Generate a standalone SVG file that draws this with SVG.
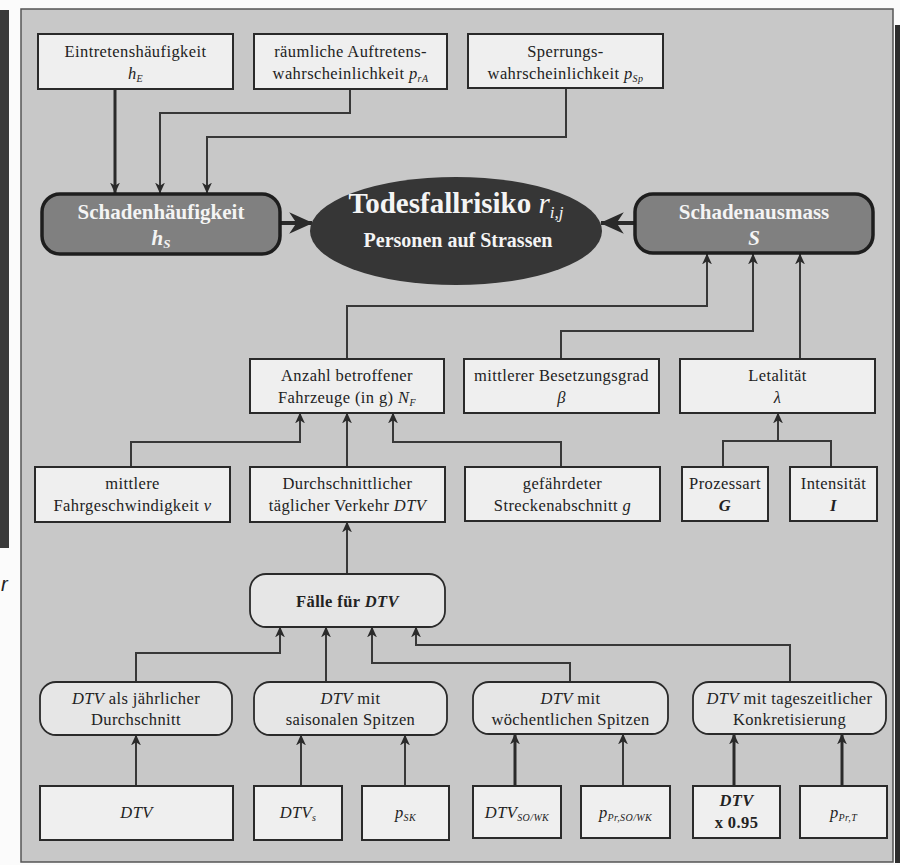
<svg xmlns="http://www.w3.org/2000/svg" width="900" height="865" viewBox="0 0 900 865">
<defs>
<style>
.box{fill:#efefef;stroke:#2a2a2a;stroke-width:2}
.rbox{fill:#e6e6e6;stroke:#2a2a2a;stroke-width:1.8}
.dbox{fill:#808080;stroke:#1e1e1e;stroke-width:3.5}
.t{font-family:"Liberation Serif","Times New Roman",serif;font-size:16.5px;fill:#222;text-anchor:middle;letter-spacing:0.4px}
.tw{font-family:"Liberation Serif","Times New Roman",serif;font-weight:bold;fill:#f4f4f4;text-anchor:middle}
.i{font-style:italic}
.b{font-weight:bold}
.c{fill:none;stroke:#383838;stroke-width:2;marker-end:url(#ah)}
.ct{fill:none;stroke:#2a2a2a;stroke-width:3;marker-end:url(#ah)}
.cn{fill:none;stroke:#383838;stroke-width:2}
.cb{fill:none;stroke:#2a2a2a;stroke-width:4;marker-end:url(#big)}
</style>
<marker id="ah" viewBox="0 0 10 10" refX="9.5" refY="5" markerWidth="11" markerHeight="11" markerUnits="userSpaceOnUse" orient="auto">
<path d="M0,0.5 L10,5 L0,9.5 L3,5 z" fill="#2a2a2a"/>
</marker>
<marker id="big" viewBox="0 0 10 10" refX="9.5" refY="5" markerWidth="24" markerHeight="24" markerUnits="userSpaceOnUse" orient="auto">
<path d="M0,0.5 L10,5 L0,9.5 L3,5 z" fill="#2a2a2a"/>
</marker>
</defs>
<rect x="0" y="0" width="900" height="865" fill="#fbfbfb"/>
<rect x="0" y="10" width="9" height="538" fill="#3a3a3a"/>
<text x="1" y="591" font-family="'Liberation Sans',Arial,sans-serif" font-style="italic" font-size="20" fill="#222">r</text>
<rect x="895" y="25" width="5" height="838" fill="#2e2e2e"/>
<rect x="21" y="9" width="872" height="853" fill="#c8c8c8" stroke="#555" stroke-width="1.5"/>

<g id="connectors">
<path class="ct" d="M115,89 V193"/>
<path class="c" d="M350,89 V113 H160 V193"/>
<path class="c" d="M566,88 V137 H207 V193"/>
<path class="cb" d="M280,223 H312"/>
<path class="cb" d="M635,223 H601"/>
<path class="c" d="M347,359 V306 H707 V254"/>
<path class="c" d="M561,359 V331 H753 V254"/>
<path class="c" d="M800,359 V254"/>
<path class="c" d="M131,467 V442 H300 V413"/>
<path class="c" d="M347,467 V413"/>
<path class="c" d="M561,467 V442 H393 V413"/>
<path class="cn" d="M723,467 V441 H831 V467"/>
<path class="c" d="M778,441 V413"/>
<path class="c" d="M347,574 V522"/>
<path class="c" d="M136,682 V653 H280 V627"/>
<path class="c" d="M326,682 V627"/>
<path class="c" d="M570,682 V663 H372 V627"/>
<path class="c" d="M790,682 V645 H416 V627"/>
<path class="c" d="M136,786 V735"/>
<path class="c" d="M301,786 V735"/>
<path class="c" d="M405,786 V735"/>
<path class="ct" d="M515,786 V734"/>
<path class="c" d="M623,786 V734"/>
<path class="ct" d="M734,786 V734"/>
<path class="ct" d="M842,786 V734"/>
</g>

<g id="eintretenshaeufigkeit">
<rect class="box" x="38" y="34" width="195" height="55"/>
<text class="t" x="135.5" y="57">Eintretenshäufigkeit</text>
<text class="t" x="135.5" y="79"><tspan class="i">h</tspan><tspan class="i" font-size="10" dy="3">E</tspan></text>
</g>
<g id="raeumliche">
<rect class="box" x="254" y="34" width="193" height="55"/>
<text class="t" x="350.5" y="57">räumliche Auftretens-</text>
<text class="t" x="350.5" y="79">wahrscheinlichkeit <tspan class="i">p</tspan><tspan class="i" font-size="10" dy="3">rA</tspan></text>
</g>
<g id="sperrung">
<rect class="box" x="468" y="34" width="195" height="54"/>
<text class="t" x="565.5" y="57">Sperrungs-</text>
<text class="t" x="565.5" y="79">wahrscheinlichkeit <tspan class="i">p</tspan><tspan class="i" font-size="10" dy="3">Sp</tspan></text>
</g>

<g id="schadenhaeufigkeit">
<rect class="dbox" x="42" y="194" width="238" height="60" rx="18"/>
<text class="tw" x="161" y="219" font-size="21">Schadenhäufigkeit</text>
<text class="tw" x="161" y="245" font-size="21"><tspan class="i">h</tspan><tspan class="i" font-size="13" dy="3">S</tspan></text>
</g>
<g id="todesfallrisiko">
<ellipse cx="456" cy="231" rx="146" ry="54" fill="#363636"/>
<text class="tw" x="456" y="213" font-size="29">Todesfallrisiko <tspan class="i" font-weight="normal">r</tspan><tspan class="i" font-weight="normal" font-size="17" dy="5">i,j</tspan></text>
<text class="tw" x="458" y="247" font-size="20">Personen auf Strassen</text>
</g>
<g id="schadenausmass">
<rect class="dbox" x="635" y="194" width="238" height="59" rx="18"/>
<text class="tw" x="754" y="219" font-size="21">Schadenausmass</text>
<text class="tw i" x="754" y="245" font-size="21">S</text>
</g>

<g id="anzahl">
<rect class="box" x="250" y="359" width="194" height="54"/>
<text class="t" x="347" y="381">Anzahl betroffener</text>
<text class="t" x="347" y="403">Fahrzeuge (in g) <tspan class="i">N</tspan><tspan class="i" font-size="10" dy="3">F</tspan></text>
</g>
<g id="besetzungsgrad">
<rect class="box" x="464" y="359" width="195" height="54"/>
<text class="t" x="561.5" y="381">mittlerer Besetzungsgrad</text>
<text class="t i" x="561.5" y="403">β</text>
</g>
<g id="letalitaet">
<rect class="box" x="680" y="359" width="195" height="54"/>
<text class="t" x="777.5" y="381">Letalität</text>
<text class="t i" x="777.5" y="403">λ</text>
</g>

<g id="fahrgeschwindigkeit">
<rect class="box" x="35" y="467" width="195" height="55"/>
<text class="t" x="132.5" y="489">mittlere</text>
<text class="t" x="132.5" y="511">Fahrgeschwindigkeit <tspan class="i">v</tspan></text>
</g>
<g id="dtv-verkehr">
<rect class="box" x="250" y="467" width="195" height="55"/>
<text class="t" x="347.5" y="489">Durchschnittlicher</text>
<text class="t" x="347.5" y="511">täglicher Verkehr <tspan class="i">DTV</tspan></text>
</g>
<g id="streckenabschnitt">
<rect class="box" x="465" y="467" width="195" height="54"/>
<text class="t" x="562.5" y="489">gefährdeter</text>
<text class="t" x="562.5" y="511">Streckenabschnitt <tspan class="i">g</tspan></text>
</g>
<g id="prozessart">
<rect class="box" x="682" y="467" width="86" height="54"/>
<text class="t" x="725" y="489">Prozessart</text>
<text class="t i b" x="725" y="511">G</text>
</g>
<g id="intensitaet">
<rect class="box" x="790" y="467" width="87" height="54"/>
<text class="t" x="833.5" y="489">Intensität</text>
<text class="t i b" x="833.5" y="511">I</text>
</g>

<g id="faelle">
<rect class="rbox" x="250" y="574" width="195" height="53" rx="16"/>
<text class="t b" x="347.5" y="607">Fälle für <tspan class="i">DTV</tspan></text>
</g>

<g id="fall-jaehrlich">
<rect class="rbox" x="40" y="682" width="192" height="53" rx="16"/>
<text class="t" x="136" y="704"><tspan class="i">DTV</tspan> als jährlicher</text>
<text class="t" x="136" y="725">Durchschnitt</text>
</g>
<g id="fall-saisonal">
<rect class="rbox" x="254" y="682" width="193" height="53" rx="16"/>
<text class="t" x="350.5" y="704"><tspan class="i">DTV</tspan> mit</text>
<text class="t" x="350.5" y="725">saisonalen Spitzen</text>
</g>
<g id="fall-woechentlich">
<rect class="rbox" x="473" y="682" width="195" height="52" rx="16"/>
<text class="t" x="570.5" y="704"><tspan class="i">DTV</tspan> mit</text>
<text class="t" x="570.5" y="725">wöchentlichen Spitzen</text>
</g>
<g id="fall-tageszeit">
<rect class="rbox" x="693" y="682" width="193" height="52" rx="16"/>
<text class="t" x="789.5" y="704"><tspan class="i">DTV</tspan> mit tageszeitlicher</text>
<text class="t" x="789.5" y="725">Konkretisierung</text>
</g>

<g id="in-dtv">
<rect class="box" x="40" y="786" width="193" height="54"/>
<text class="t i" x="136.5" y="818">DTV</text>
</g>
<g id="in-dtvs">
<rect class="box" x="254" y="786" width="88" height="54"/>
<text class="t i" x="298" y="818">DTV<tspan font-size="10" dy="3">s</tspan></text>
</g>
<g id="in-psk">
<rect class="box" x="362" y="786" width="87" height="54"/>
<text class="t i" x="405.5" y="818">p<tspan font-size="10" dy="3">SK</tspan></text>
</g>
<g id="in-dtvsowk">
<rect class="box" x="473" y="786" width="88" height="52"/>
<text class="t i" x="517" y="818">DTV<tspan font-size="10" dy="3">SO/WK</tspan></text>
</g>
<g id="in-pprsowk">
<rect class="box" x="581" y="786" width="89" height="52"/>
<text class="t i" x="625.5" y="818">p<tspan font-size="10" dy="3">Pr,SO/WK</tspan></text>
</g>
<g id="in-dtv095">
<rect class="box" x="693" y="786" width="87" height="52"/>
<text class="t i b" x="736.5" y="806">DTV</text>
<text class="t b" x="736.5" y="828">x 0.95</text>
</g>
<g id="in-pprt">
<rect class="box" x="800" y="786" width="87" height="52"/>
<text class="t i" x="843.5" y="818">p<tspan font-size="10" dy="3">Pr,T</tspan></text>
</g>
</svg>
